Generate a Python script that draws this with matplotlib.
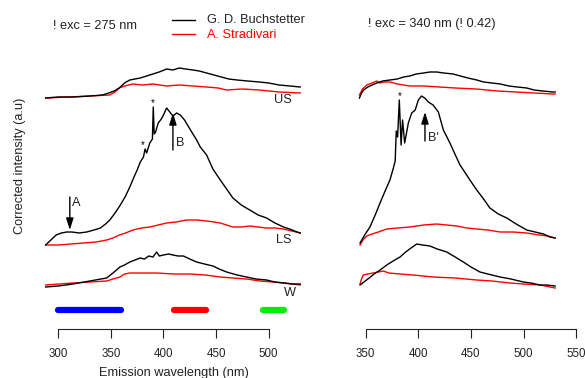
import matplotlib
matplotlib.use('Agg')
import matplotlib.pyplot as plt
from matplotlib.lines import Line2D

plt.rcParams['font.family'] = ['Liberation Sans', 'DejaVu Sans']

# ---- data: excitation 275 nm (left panel), offsets included ----
us275_k_nm = [288, 300, 315, 330, 342, 348, 353, 358, 363, 368, 373, 378, 384, 390, 396, 403, 409, 415, 421, 428, 434, 441, 448, 455, 462, 470, 480, 491, 500, 510, 520, 530]
us275_k = [231, 232, 232, 233, 234, 236, 238, 241, 246, 249, 250, 251, 253, 255, 257, 260, 259, 261, 260, 259, 258, 256, 254, 252, 250, 249, 248, 247, 246, 244, 243, 242]
us275_r_nm = [288, 310, 330, 349, 354, 358, 363, 367, 371, 380, 390, 403, 415, 428, 441, 452, 460, 475, 491, 510, 530]
us275_r = [231, 232, 233, 234, 237, 241, 243, 244, 245, 244, 245, 243, 244, 243, 242, 241, 239, 240, 239, 237, 236]

ls275_k_nm = [288, 293, 298, 303, 308, 313, 320, 327, 334, 340, 345, 349, 354, 359, 364, 368, 372, 375, 378, 381, 382.5, 384, 387, 389.5, 390.3, 391.2, 392.5, 395, 398, 400, 403, 406, 409, 412.5, 416, 420, 424, 428, 431, 435, 441, 447, 454, 460, 466, 474, 482, 490, 498, 506, 514, 520, 527, 530]
ls275_k = [84, 89, 94, 96, 97, 97, 96, 97, 99, 101, 105, 109, 116, 124, 133, 142, 152, 159, 167, 172, 180, 176, 186, 190, 222, 195, 197, 206, 210, 214, 221, 217, 213, 216, 214, 209, 202, 195, 190, 182, 174, 160, 149, 140, 131, 124, 119, 114, 111, 106, 102, 100, 97, 96]
ls275_r_nm = [288, 300, 312, 324, 336, 346, 352, 358, 364, 371, 379, 387, 395, 403, 412, 422, 432, 441, 448, 454, 460, 466, 474, 482, 490, 498, 506, 514, 522, 530]
ls275_r = [84, 84, 85, 86, 87, 89, 91, 94, 96, 99, 101, 102, 104, 106, 107, 109, 109, 108, 107, 106, 104, 102, 102, 103, 102, 101, 101, 100, 98, 96]

w275_k_nm = [288, 300, 314, 330, 346, 352, 358.6, 363, 368, 373, 377.7, 382, 386, 390, 393.5, 396, 400, 405, 409, 414, 419, 425, 431.5, 439, 447, 453, 460, 470, 479, 488, 498, 506, 514, 522, 530]
w275_k = [42, 43, 45, 48, 51, 56, 62, 64, 67, 69, 71, 70, 73, 72, 77, 73, 74, 75, 74, 73, 73, 70, 67, 65, 63, 60, 57, 54, 52, 50, 49, 47, 46, 45, 45]
w275_r_nm = [288, 314, 346, 352, 358.6, 363, 368, 380, 393, 410, 425, 440, 454, 466, 479, 492, 504, 516, 530]
w275_r = [44, 46, 48, 50, 52, 55, 56, 56, 56, 55, 55, 54, 52, 51, 50, 48, 47, 46, 44]

# ---- data: excitation 340 nm (right panel) ----
us340_k_nm = [344, 346, 348, 352, 356, 360.5, 366, 373, 380, 386, 392, 398, 405, 411, 417.5, 424, 433, 440, 447, 455.5, 462, 470, 478, 486, 494, 503, 510, 518, 528, 530]
us340_k = [231, 236, 239, 242, 244, 246, 248, 249, 250, 252, 253, 255, 256, 257, 257, 256, 255, 253, 251, 249, 247, 246, 245, 243, 242, 241, 239, 238, 237, 237]
us340_r_nm = [344, 347, 351, 356, 360.5, 363, 367, 373, 380, 392, 405, 420, 435, 455, 475, 493, 510, 528, 530]
us340_r = [234, 240, 244, 246, 248, 246, 247, 247, 245, 243, 243, 242, 241, 240, 238, 237, 236, 235, 235]

ls340_k_nm = [344.6, 349, 354, 359, 363.6, 368, 373, 376, 378, 379, 380.3, 381.9, 383.6, 385, 387, 390.5, 393.7, 397, 400, 403, 406, 409.5, 414, 419, 423.8, 430, 433, 439.6, 442.8, 449, 455.5, 462, 468, 476, 484, 493, 503, 511, 519, 525, 530]
ls340_k = [86, 94, 102, 114, 126, 137, 149, 160, 168, 198, 192, 229, 184, 209, 186, 206, 216, 219, 229, 233, 231, 227, 224, 217, 199, 186, 179, 164, 159, 149, 139, 130, 121, 115, 111, 105, 99, 97, 95, 92, 91]
ls340_r_nm = [344.6, 348, 351, 356, 362, 370, 380, 392, 405, 417.5, 427, 436.5, 446, 455.5, 466, 477.7, 490, 503, 515, 523, 530]
ls340_r = [84, 90, 93, 95, 97, 100, 101, 102, 104, 105, 104, 103, 101, 100, 99, 97, 97, 96, 94, 93, 91]

w340_k_nm = [344.6, 352, 358, 363.6, 370, 376, 382.6, 388, 393, 398.5, 404, 411, 418, 427, 435, 442.8, 450, 458.6, 466, 477.7, 488, 499.8, 507, 515.7, 522, 530]
w340_k = [44, 50, 55, 59, 64, 68, 72, 77, 81, 85, 84, 83, 80, 77, 72, 67, 62, 57, 55, 52, 50, 47, 46, 44, 44, 43]
w340_r_nm = [344.6, 346, 347.7, 352, 357, 362, 366.7, 372, 382.6, 395, 414, 435, 455.5, 470, 487, 500, 515.7, 530]
w340_r = [45, 50, 54, 55, 56, 57, 58, 56, 55, 54, 52, 51, 49, 48, 46, 45, 44, 41]

# spectral bands shown under the left panel
bands = [(300, 360, '#0000ff'), (410, 440, '#ff0000'), (495, 515, '#00ee00')]
band_level = 19

fig = plt.figure(figsize=(5.85, 3.78), dpi=100)
ax1 = fig.add_axes([0.0726, 0.1296, 0.4496, 0.7937])
ax2 = fig.add_axes([0.6072, 0.1296, 0.3867, 0.7937])

lw = 1.0
for ax, sets in [(ax1, [(us275_k_nm, us275_k, us275_r_nm, us275_r),
                        (ls275_k_nm, ls275_k, ls275_r_nm, ls275_r),
                        (w275_k_nm, w275_k, w275_r_nm, w275_r)]),
                 (ax2, [(us340_k_nm, us340_k, us340_r_nm, us340_r),
                        (ls340_k_nm, ls340_k, ls340_r_nm, ls340_r),
                        (w340_k_nm, w340_k, w340_r_nm, w340_r)])]:
    for kx, ky, rx, ry in sets:
        ax.plot(rx, ry, color='red', lw=lw)
        ax.plot(kx, ky, color='black', lw=lw)
    ax.set_ylim(0, 300)
    for s in ['top', 'right', 'left']:
        ax.spines[s].set_visible(False)
    ax.set_yticks([])
    ax.tick_params(axis='x', direction='out', length=6.5, width=0.8, pad=7, labelsize=8.3, colors='#222222')
    ax.spines['bottom'].set_color('#222222')
    ax.spines['bottom'].set_linewidth(0.8)

ax1.set_xlim(285, 535)
ax1.set_xticks([300, 350, 400, 450, 500])
ax1.spines['bottom'].set_bounds(300, 500)
ax2.set_xlim(340, 555)
ax2.set_xticks([350, 400, 450, 500, 550])
ax2.spines['bottom'].set_bounds(350, 550)

for x0, x1, c in bands:
    ax1.plot([x0, x1], [band_level, band_level], color=c, lw=4.5, solid_capstyle='round')

fs = 9.2
ax1.text(522, 229, 'US', ha='right', va='center', fontsize=fs, color='#222222')
ax1.text(522, 89, 'LS', ha='right', va='center', fontsize=fs, color='#222222')
ax1.text(526, 36, 'W', ha='right', va='center', fontsize=fs, color='#222222')

arrow = dict(arrowstyle='-|>,head_length=0.7,head_width=0.22', color='black', lw=1.0, shrinkA=0, shrinkB=0)
ax1.annotate('', xy=(409, 216), xytext=(409, 179), arrowprops=arrow)
ax1.text(411.5, 186, 'B', fontsize=fs, va='center', color='#222222')
ax1.annotate('', xy=(311, 99), xytext=(311, 132), arrowprops=arrow)
ax1.text(313.5, 126, 'A', fontsize=fs, va='center', color='#222222')
ax1.text(380.6, 184, '*', fontsize=7, ha='center', va='center')
ax1.text(390.3, 226, '*', fontsize=7, ha='center', va='center')

ax2.annotate('', xy=(406.3, 217), xytext=(406.3, 188), arrowprops=arrow)
ax2.text(408.8, 191, "B'", fontsize=fs, va='center', color='#222222')
ax2.text(381.9, 233, '*', fontsize=7, ha='center', va='center')

# titles, legend and axis labels in figure pixels
W, H = 585, 378
fig.text(53 / W, 1 - 26 / H, '! exc = 275 nm', fontsize=fs, va='center', color='#222222')
fig.text(368 / W, 1 - 24 / H, '! exc = 340 nm (! 0.42)', fontsize=fs, va='center', color='#222222')
fig.add_artist(Line2D([172 / W, 195 / W], [1 - 20 / H, 1 - 20 / H], color='black', lw=1.0))
fig.add_artist(Line2D([172 / W, 195 / W], [1 - 33.5 / H, 1 - 33.5 / H], color='red', lw=1.0))
fig.text(207 / W, 1 - 20 / H, 'G. D. Buchstetter', fontsize=fs, va='center', color='#222222')
fig.text(207 / W, 1 - 35 / H, 'A. Stradivari', fontsize=fs, va='center', color='red')
fig.text(20 / W, 1 - 166 / H, 'Corrected intensity (a.u)', fontsize=fs, rotation=90,
         ha='center', va='center', color='#222222')
fig.text(173.5 / W, 1 - 376 / H, 'Emission wavelength (nm)', fontsize=fs, ha='center',
         va='baseline', color='#222222')

fig.savefig('out.png', dpi=100)
